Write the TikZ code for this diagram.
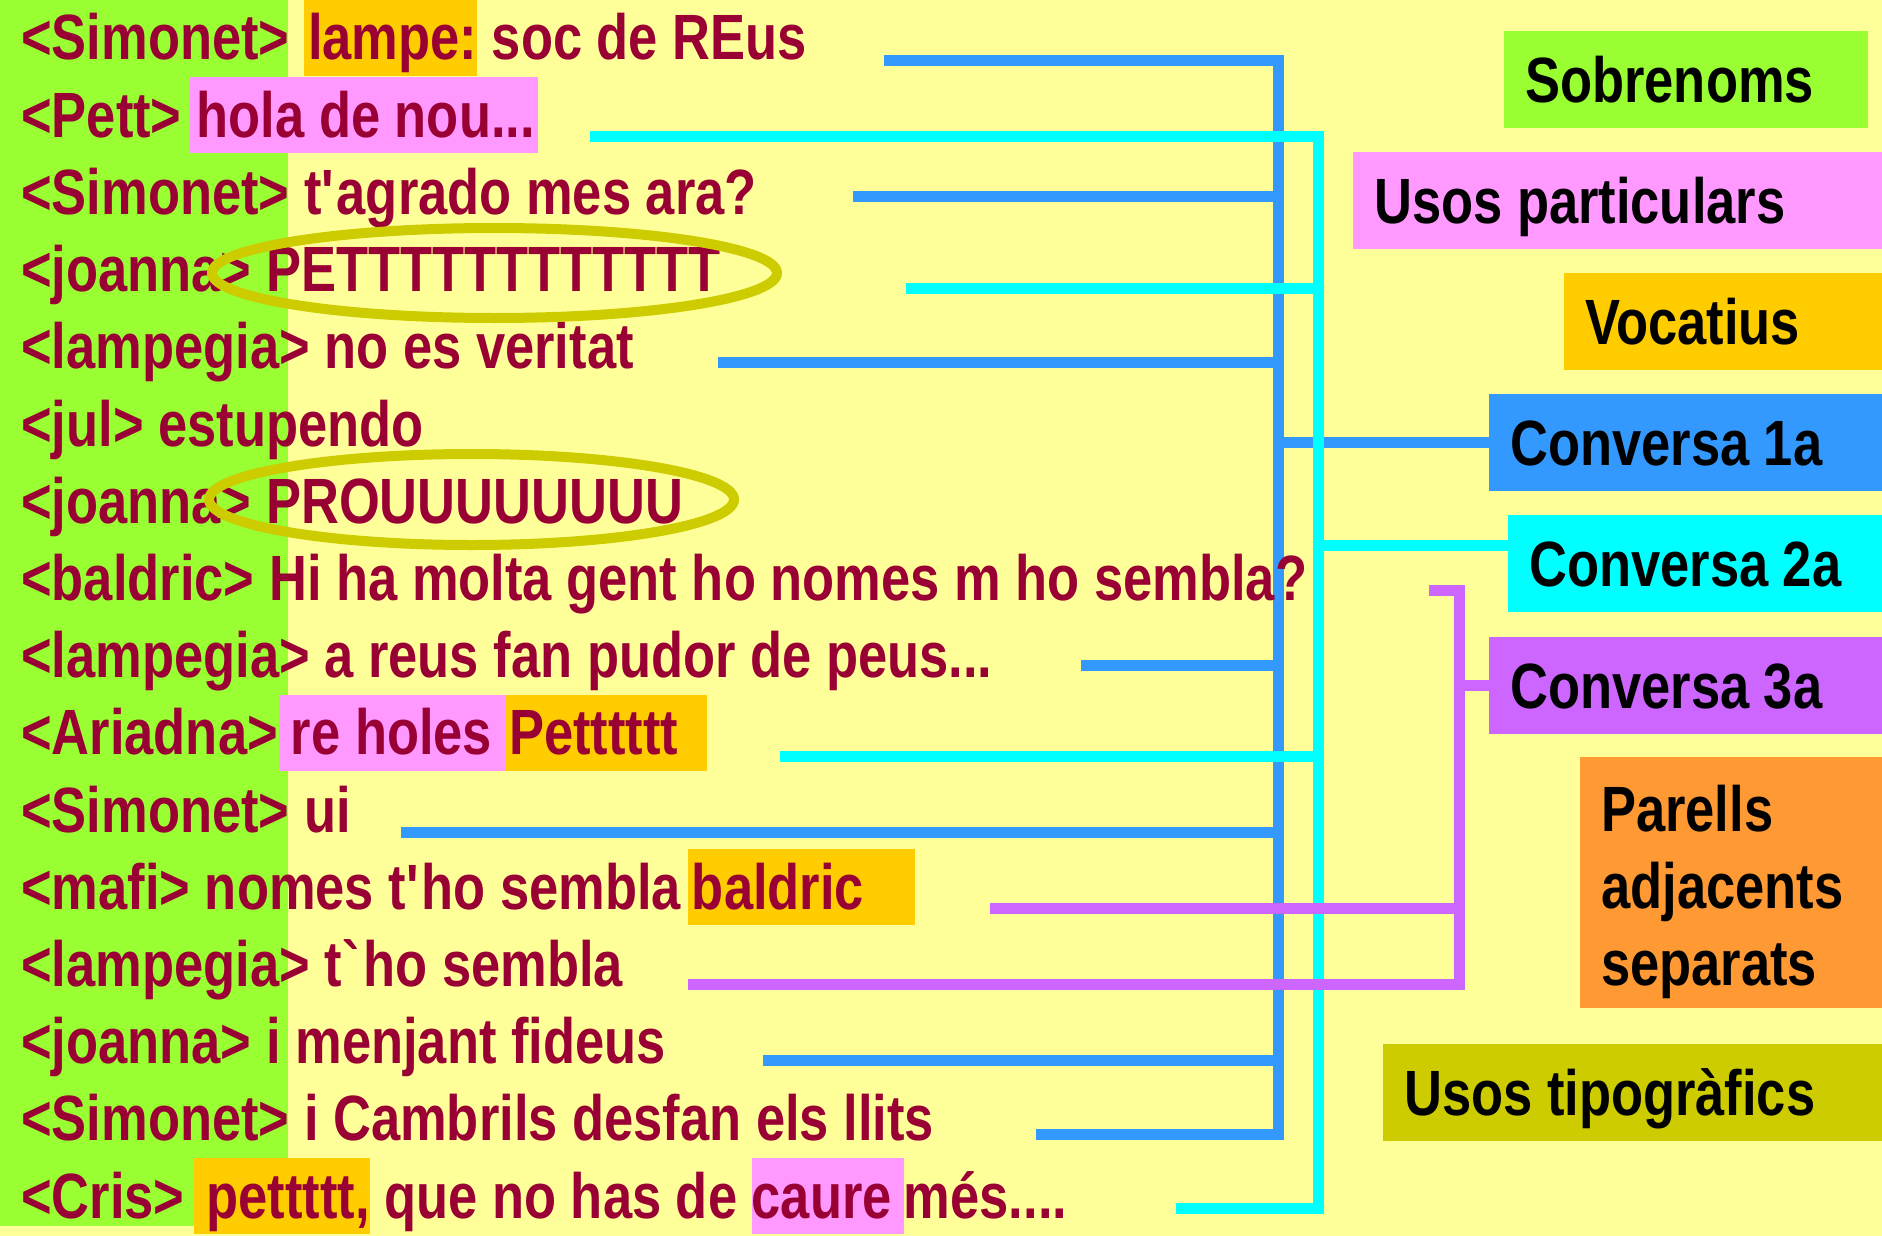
\documentclass[tikz,border=0pt]{standalone}
\usepackage{fontspec}
\usepackage{tikz}

\newfontfamily\xatfont{Liberation Sans}[FakeStretch=0.82]

\definecolor{fons}{HTML}{FFFF99}
\definecolor{verd}{HTML}{99FF33}
\definecolor{granat}{HTML}{990033}
\definecolor{taronja}{HTML}{FFCC00}
\definecolor{rosa}{HTML}{FF99FF}
\definecolor{blau}{HTML}{3399FF}
\definecolor{cian}{HTML}{00FFFF}
\definecolor{lila}{HTML}{CC66FF}
\definecolor{taronjafosc}{HTML}{FF9933}
\definecolor{oliva}{HTML}{CCCC00}

% fons de color darrere d'un tros de frase
\newcommand{\marca}[2]{{\setlength{\fboxsep}{0pt}\colorbox{#1}{\rule[-16pt]{0pt}{76pt}#2}}}

\tikzset{
	xat/.style = {font=\xatfont\bfseries\fontsize{64}{77}\selectfont},
	etiq/.style = {xat, text=black, anchor=west, inner xsep=21pt, inner ysep=0pt,
		text height=46pt, text depth=0pt, minimum height=97pt, text width=#1, align=flush left},
	fil/.style = {line width=11pt},
	encercla/.style = {draw=oliva, line width=10pt}
}

\begin{document}
\begin{tikzpicture}[x=1pt, y=-1pt]
	\path[use as bounding box] (0,0) rectangle (1882,1236);
	\fill[fons] (0,0) rectangle (1882,1236);
	\clip (0,0) rectangle (1882,1236);
	\fill[verd] (0,0) rectangle (288,1226);

	% etiquetes de la dreta
	\node[etiq=322pt, fill=verd] (sobren) at (1504,79.5) {Sobrenoms};
	\node[etiq=560pt, fill=rosa] (usos) at (1353,200.5) {Usos particulars};
	\node[etiq=400pt, fill=taronja] (vocat) at (1564,321.5) {Vocatius};
	\node[etiq=420pt, fill=blau] (conv1) at (1489,442.5) {Conversa 1a};
	\node[etiq=420pt, fill=cian] (conv2) at (1508,563.5) {Conversa 2a};
	\node[etiq=420pt, fill=lila] (conv3) at (1489,685) {Conversa 3a};
	\node[etiq=400pt, fill=taronjafosc, text depth=149pt, minimum height=251pt]
		(parells) at (1580,882.5) {Parells\\adjacents\\separats};
	\node[etiq=520pt, fill=oliva] (tipog) at (1383,1092.5) {Usos tipogràfics};

	% conversa 1a
	\begin{scope}[fil, draw=blau]
		\coordinate (bx) at (1278,0);
		\coordinate (b1) at (884,61);
		\coordinate (b2) at (853,196);
		\coordinate (b3) at (718,362);
		\coordinate (b4) at (1081,665);
		\coordinate (b5) at (401,832);
		\coordinate (b6) at (763,1060);
		\coordinate (b7) at (1036,1134);
		\draw (b1) -| (bx |- b7) -- (b7);
		\foreach \p in {b2,b3,b4,b5,b6}
			\draw (\p) -- (bx |- \p);
		\draw (bx |- conv1.west) -- (conv1.west);
	\end{scope}

	% conversa 2a
	\begin{scope}[fil, draw=cian]
		\coordinate (cx) at (1318,0);
		\coordinate (c1) at (590,137);
		\coordinate (c2) at (906,288);
		\coordinate (c3) at (780,756);
		\coordinate (c4) at (1176,1208);
		\coordinate (k2) at ([yshift=18.5pt]conv2.west);
		\draw (c1) -| (cx |- c4) -- (c4);
		\draw (c2) -- (cx |- c2);
		\draw (c3) -- (cx |- c3);
		\draw (cx |- k2) -- (k2);
	\end{scope}

	% conversa 3a
	\begin{scope}[fil, draw=lila]
		\coordinate (mx) at (1459,0);
		\coordinate (m0) at (1429,590);
		\coordinate (m1) at (990,908);
		\coordinate (m2) at (688,984);
		\draw (m0) -| (mx |- m2) -- (m2);
		\draw (m1) -- (mx |- m1);
		\draw (mx |- conv3.west) -- (conv3.west);
	\end{scope}

	% el xat
	\begin{scope}[every node/.style = {xat, text=granat, anchor=base west, inner sep=0pt}]
		\node (l1) at (21,60) {<Simonet> \marca{taronja}{\hspace{4pt}lampe:} soc de REus};
		\node (l2) at (21,137.2) {<Pett>\hspace{7pt}\marca{rosa}{\hspace{8pt}hola de nou...\hspace{3pt}}};
		\node (l3) at (21,214.4) {<Simonet> t\textquotesingle agrado mes ara?};
		\node (l4) at (21,291.6) {<joanna> PETTTTTTTTTTTT};
		\node (l5) at (21,368.8) {<lampegia> no es veritat};
		\node (l6) at (21,446) {<jul> estupendo};
		\node (l7) at (21,523.2) {<joanna> PROUUUUUUUU};
		\node (l8) at (21,600.4) {<baldric> Hi ha molta gent ho nomes m ho sembla?};
		\node (l9) at (21,677.6) {<lampegia> a reus fan pudor de peus...};
		\node (l10) at (21,754.8) {<Ariadna>\hspace{1pt}\marca{rosa}{\hspace{12pt}re holes\hspace{14pt}}\marca{taronja}{\hspace{3pt}Petttttt\hspace{29pt}}};
		\node (l11) at (21,832) {<Simonet> ui};
		\node (l12) at (21,909.2) {<mafi> nomes t\textquotesingle ho sembla\hspace{7pt}\marca{taronja}{\hspace{4pt}baldric\hspace{51pt}}};
		\node (l13) at (21,986.4) {<lampegia> t\textasciigrave ho sembla};
		\node (l14) at (21,1063.6) {<joanna> i menjant fideus};
		\node (l15) at (21,1140.8) {<Simonet> i Cambrils desfan els llits};
		\node (l16) at (21,1218) {<Cris>\hspace{9pt}\marca{taronja}{\hspace{13pt}pettttt,} que no has de \marca{rosa}{caure\hspace{12pt}}més....};
	\end{scope}

	% paraules encerclades
	\draw[encercla] (494.5,273) ellipse [x radius=282.5, y radius=45];
	\draw[encercla] (471.5,499.5) ellipse [x radius=262.5, y radius=45.5];
\end{tikzpicture}
\end{document}
